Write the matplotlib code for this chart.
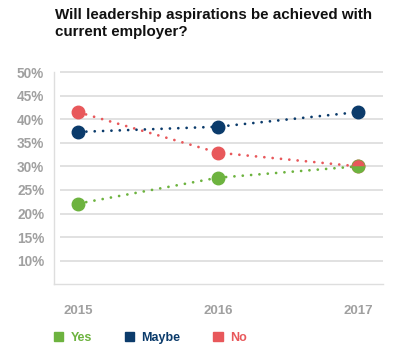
import matplotlib
matplotlib.use("Agg")
import matplotlib.pyplot as plt
from matplotlib.patches import Patch

plt.rcParams['font.family'] = ['Liberation Sans', 'DejaVu Sans']

years = ["2015", "2016", "2017"]
series_names = ["Yes", "Maybe", "No"]
yes_vals = [22.1, 27.6, 30.0]
maybe_vals = [37.3, 38.4, 41.5]
no_vals = [41.5, 32.9, 30.0]
y_ticks = [10, 15, 20, 25, 30, 35, 40, 45, 50]

COLORS = {"Yes": "#6DB33F", "Maybe": "#0B3B6B", "No": "#E8585B"}
GRID = "#DEDEDE"
TICK = "#A0A0A0"

fig = plt.figure(figsize=(4.10, 3.51), dpi=100, facecolor="white")
ax = fig.add_axes([54 / 410, 1 - 284.3 / 351, (383 - 54) / 410, (284.3 - 72) / 351])

x = list(range(len(years)))
x_lo, x_hi = -24 / 140, 2 + 25 / 140

# draw No and Maybe first, Yes on top
for name, vals in [("No", no_vals), ("Maybe", maybe_vals), ("Yes", yes_vals)]:
    ax.plot(x, vals, color=COLORS[name], lw=2.0, linestyle=(0, (0.01, 3.0)),
            dash_capstyle="round", zorder=3)
    ax.plot(x, vals, "o", color=COLORS[name], ms=9, mec=COLORS[name], zorder=4)

# split marker where Yes and No meet in 2017
ax.plot(x[-1], no_vals[-1], "o", ms=9, color=COLORS["No"], fillstyle="top",
        markerfacecoloralt=COLORS["Yes"], mec="none", zorder=5)

ax.set_xlim(x_lo, x_hi)
ax.set_ylim(5, 50)
# gridlines start a little right of the axis line
ax.hlines(y_ticks, x_lo + 6 / 140, x_hi, color=GRID, lw=1.3, zorder=0, clip_on=False)
ax.set_yticks(y_ticks)
ax.set_yticklabels([f"{t}%" for t in y_ticks])
ax.set_xticks(x)
ax.set_xticklabels(years)
ax.tick_params(axis="both", length=0, colors=TICK)
ax.tick_params(axis="y", pad=7, labelsize=9.8)
ax.tick_params(axis="x", pad=15, labelsize=9.5)
for lab in ax.get_yticklabels() + ax.get_xticklabels():
    lab.set_fontweight("bold")
for s in ["top", "right"]:
    ax.spines[s].set_visible(False)
for s in ["left", "bottom"]:
    ax.spines[s].set_color(GRID)
    ax.spines[s].set_linewidth(1.0)

fig.text(55 / 410, 1 - 8 / 351,
         "Will leadership aspirations be achieved with\ncurrent employer?",
         ha="left", va="top", fontsize=10.9, fontweight="bold", color="#111111",
         linespacing=1.3)

handles = [Patch(color=COLORS[n], label=n) for n in series_names]
leg = fig.legend(handles=handles, loc="center left", bbox_to_anchor=(54 / 410, 1 - 338 / 351),
                 ncol=3, frameon=False, handlelength=0.75, handleheight=0.75,
                 handletextpad=0.6, columnspacing=2.6, borderpad=0, borderaxespad=0,
                 prop={"weight": "bold", "size": 9})
for t, n in zip(leg.get_texts(), series_names):
    t.set_color(COLORS[n])

fig.savefig("out.png", dpi=100, facecolor="white")
